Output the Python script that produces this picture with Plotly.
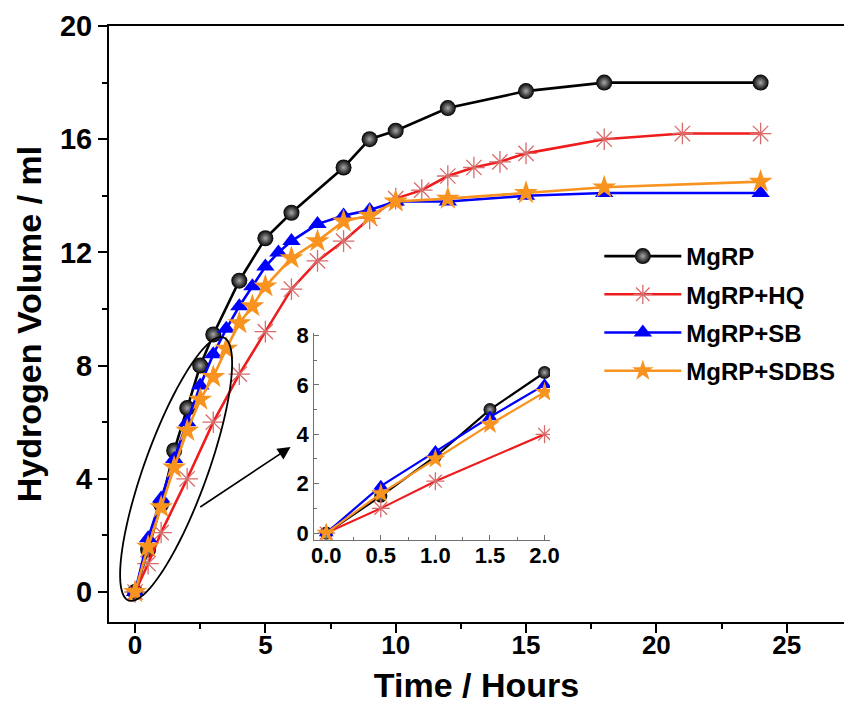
import numpy as np
import plotly.graph_objects as go

# ---- data: hydrogen volume (ml) vs time (hours) ----
t_mgrp = [0, 0.5, 1, 1.5, 2, 2.5, 3, 4, 5, 6, 8, 9, 10, 12, 15, 18, 24]
v_mgrp = [0, 1.5, 3.1, 5.0, 6.5, 8.0, 9.1, 11.0, 12.5, 13.4, 15.0, 16.0, 16.3, 17.1, 17.7, 18.0, 18.0]

t_hq = [0, 0.5, 1, 2, 3, 4, 5, 6, 7, 8, 9, 10, 11, 12, 13, 14, 15, 18, 21, 24]
v_hq = [0, 1.0, 2.1, 4.0, 6.0, 7.7, 9.2, 10.7, 11.7, 12.4, 13.2, 13.9, 14.2, 14.7, 15.0, 15.2, 15.5, 16.0, 16.2, 16.2]

t_sb = [0, 0.5, 1, 1.5, 2, 2.5, 3, 3.5, 4, 4.5, 5, 5.5, 6, 7, 8, 9, 10, 12, 15, 18, 24]
v_sb = [0, 1.9, 3.3, 4.7, 6.0, 7.3, 8.4, 9.3, 10.1, 10.8, 11.5, 12.0, 12.4, 13.0, 13.3, 13.5, 13.8, 13.8, 14.0, 14.1, 14.1]

t_sdbs = [0, 0.5, 1, 1.5, 2, 2.5, 3, 3.5, 4, 4.5, 5, 6, 7, 8, 9, 10, 12, 15, 18, 24]
v_sdbs = [0, 1.6, 3.0, 4.4, 5.7, 6.8, 7.6, 8.6, 9.5, 10.1, 10.8, 11.8, 12.4, 13.1, 13.3, 13.8, 13.9, 14.1, 14.3, 14.5]

series_names = ["MgRP", "MgRP+HQ", "MgRP+SB", "MgRP+SDBS"]
INSET_MAX_T = 2.0

BOLD = "Liberation Sans"

styles = [
    dict(line=dict(color="#000000", width=2.6),
         marker=dict(symbol="circle", size=16, color="#000000",
                     gradient=dict(type="radial", color="#a8a8a8"),
                     line=dict(width=0))),
    dict(line=dict(color="#ee1c1c", width=2.6),
         marker=dict(symbol="asterisk-open", size=18, color="#d86a6a",
                     line=dict(width=1.3, color="#d86a6a"))),
    dict(line=dict(color="#0000ff", width=2.6),
         marker=dict(symbol="triangle-up", size=16, color="#0000ff",
                     line=dict(width=0))),
    dict(line=dict(color="#f7931e", width=2.6),
         marker=dict(symbol="star", size=18, color="#f7931e",
                     line=dict(width=0))),
]

all_t = [t_mgrp, t_hq, t_sb, t_sdbs]
all_v = [v_mgrp, v_hq, v_sb, v_sdbs]

fig = go.Figure()

# main curves
for name, tt, vv, st in zip(series_names, all_t, all_v, styles):
    fig.add_trace(go.Scatter(x=tt, y=vv, mode="lines+markers", name=name,
                             line=st["line"], marker=st["marker"],
                             legendgroup=name, xaxis="x", yaxis="y"))

# inset: first two hours
for name, tt, vv, st in zip(series_names, all_t, all_v, styles):
    ti = [a for a in tt if a <= INSET_MAX_T]
    vi = [b for a, b in zip(tt, vv) if a <= INSET_MAX_T]
    mk = dict(st["marker"])
    mk["size"] = int(st["marker"]["size"] * 0.85)
    ln = dict(st["line"])
    ln["width"] = 2.2
    fig.add_trace(go.Scatter(x=ti, y=vi, mode="lines+markers", name=name,
                             line=ln, marker=mk, showlegend=False,
                             xaxis="x2", yaxis="y2"))

# ellipse around the early-time region (built in pixel space, mapped to data units)
X0_PX, X_PER = 135.4, 26.42
Y0_PX, Y_PER = 592.0, 28.3
cx, cy = 177.0, 469.0
ang = np.arctan2(338 - 600, 225 - 129)
a_px, b_px = 140.0, 32.0
th = np.linspace(0, 2 * np.pi, 121)
ex = cx + a_px * np.cos(th) * np.cos(ang) - b_px * np.sin(th) * np.sin(ang)
ey = cy + a_px * np.cos(th) * np.sin(ang) + b_px * np.sin(th) * np.cos(ang)
dx = (ex - X0_PX) / X_PER
dy = (Y0_PX - ey) / Y_PER
path = "M " + " L ".join(f"{u:.4f},{w:.4f}" for u, w in zip(dx, dy)) + " Z"
fig.add_shape(type="path", path=path, xref="x", yref="y",
              line=dict(color="#000000", width=1.8))

# arrow pointing from the ellipse to the inset
fig.add_annotation(x=(293 - X0_PX) / X_PER, y=(Y0_PX - 447) / Y_PER,
                   ax=(200 - X0_PX) / X_PER, ay=(Y0_PX - 508) / Y_PER,
                   xref="x", yref="y", axref="x", ayref="y",
                   text="", showarrow=True, arrowhead=2, arrowsize=1.6,
                   arrowwidth=1.6, arrowcolor="#000000")

W, H = 854, 708
ml, mr, mt, mb = 109, 0, 26, 86
pw, ph = W - ml - mr, H - mt - mb


def px_to_paper_x(p):
    return (p - ml) / pw


def px_to_paper_y(p):
    return (H - mb - p) / ph


fig.update_layout(
    width=W, height=H,
    margin=dict(l=ml, r=mr, t=mt, b=mb),
    plot_bgcolor="white", paper_bgcolor="white",
    font=dict(family=BOLD, color="#000000"),
    showlegend=True,
    legend=dict(x=px_to_paper_x(606), y=px_to_paper_y(234), xanchor="left", yanchor="top",
                font=dict(family=BOLD, size=24, color="#000000", weight="bold"),
                bgcolor="rgba(0,0,0,0)", itemwidth=77, tracegroupgap=4),
    xaxis=dict(domain=[0, 1], range=[-1, 27.2], showgrid=False, zeroline=False,
               showline=True, linecolor="#000000", linewidth=2, mirror=True,
               ticks="outside", ticklen=9, tickwidth=2, tickcolor="#000000",
               tickmode="array", tickvals=[0, 5, 10, 15, 20, 25],
               minor=dict(ticks="outside", ticklen=5, tickwidth=2, dtick=2.5, tick0=0,
                          tickcolor="#000000"),
               tickfont=dict(family=BOLD, size=26, weight="bold"),
               ticklabelstandoff=-10,
               title=dict(text="Time / Hours", standoff=14,
                          font=dict(family=BOLD, size=34, weight="bold"))),
    yaxis=dict(domain=[0, 1], range=[-1.06, 20], showgrid=False, zeroline=False,
               showline=True, linecolor="#000000", linewidth=2, mirror=False,
               ticks="outside", ticklen=9, tickwidth=2, tickcolor="#000000",
               tickmode="array", tickvals=[0, 4, 8, 12, 16, 20],
               minor=dict(ticks="outside", ticklen=5, tickwidth=2, dtick=2, tick0=0,
                          tickcolor="#000000"),
               tickfont=dict(family=BOLD, size=29, weight="bold"),
               title=dict(text="Hydrogen Volume / ml", standoff=8,
                          font=dict(family=BOLD, size=34, weight="bold"))),
    xaxis2=dict(domain=[px_to_paper_x(317), px_to_paper_x(556)], anchor="y2",
                range=[-0.11, 2.05], showgrid=False, zeroline=False,
                showline=True, linecolor="#707070", linewidth=1.2,
                ticks="inside", ticklen=5, tickwidth=1.2, tickcolor="#707070",
                tickmode="array", tickvals=[0, 0.5, 1, 1.5, 2], ticktext=["0.0", "0.5", "1.0", "1.5", "2.0"],
                minor=dict(ticks="inside", ticklen=3, dtick=0.25, tick0=0, tickcolor="#707070"),
                ticklabelstandoff=-5,
                tickfont=dict(family=BOLD, size=22, weight="bold")),
    yaxis2=dict(domain=[px_to_paper_y(540), px_to_paper_y(333)], anchor="x2",
                range=[-0.28, 8.1], showgrid=False, zeroline=False,
                showline=True, linecolor="#707070", linewidth=1.2,
                ticks="inside", ticklen=5, tickwidth=1.2, tickcolor="#707070",
                tickmode="array", tickvals=[0, 2, 4, 6, 8],
                minor=dict(ticks="inside", ticklen=3, dtick=1, tick0=0, tickcolor="#707070"),
                tickfont=dict(family=BOLD, size=22, weight="bold")),
)

fig.write_html("out.html")
